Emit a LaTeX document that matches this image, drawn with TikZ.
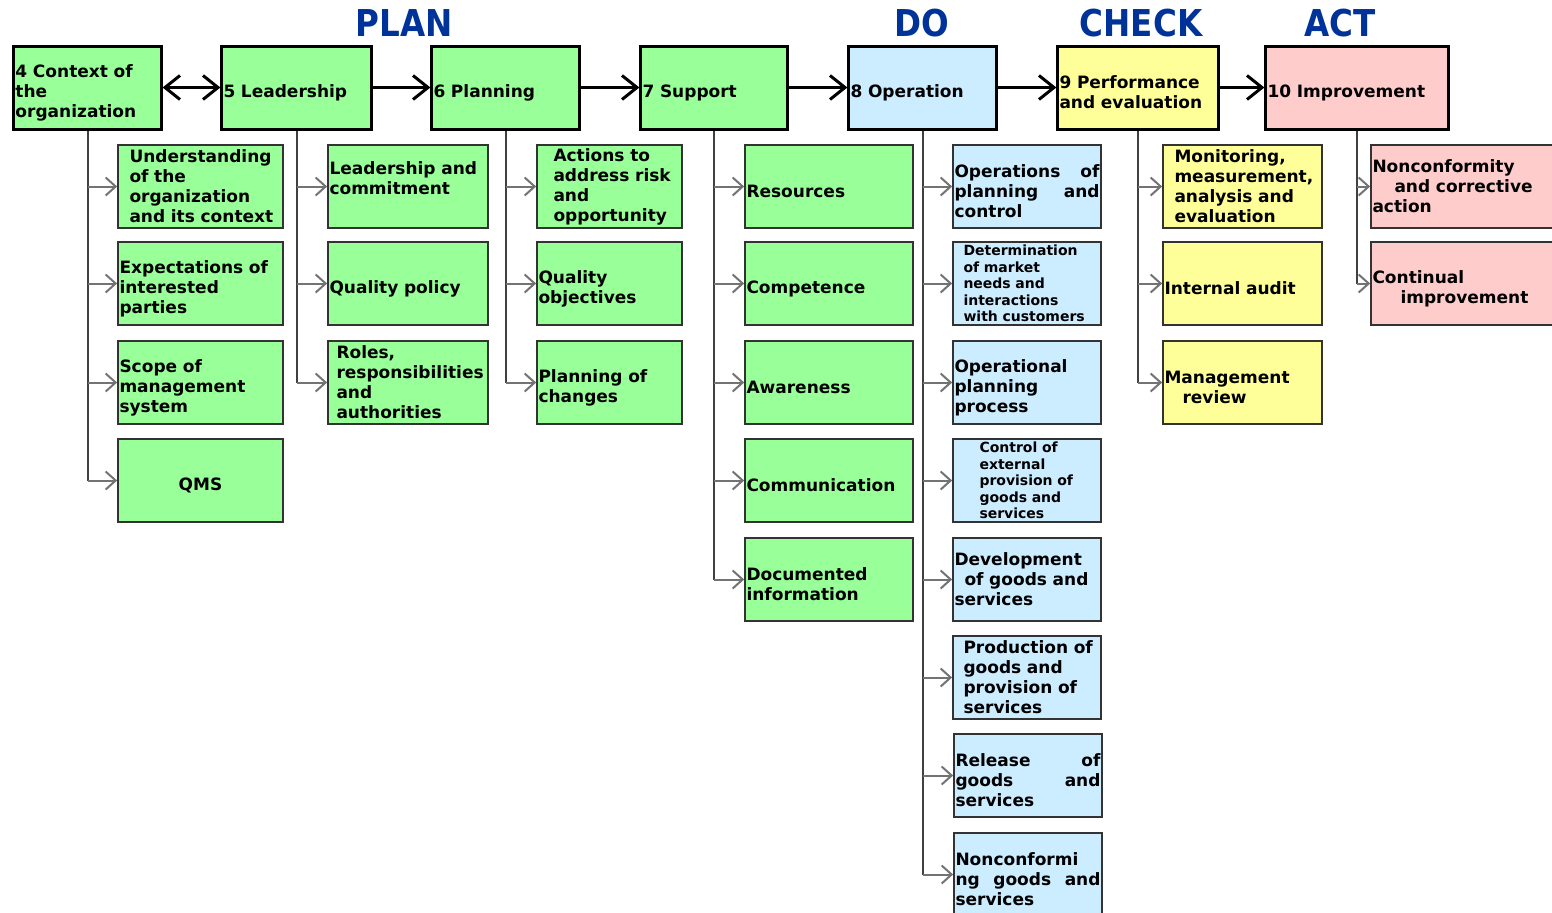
\documentclass[tikz,border=0pt]{standalone}
\usepackage{fontspec}
\setmainfont{DejaVu Sans}
\newfontfamily\headfont[FakeStretch=0.88]{DejaVu Sans}
\usetikzlibrary{arrows.meta}
\definecolor{qgreen}{RGB}{153,255,153}
\definecolor{qblue}{RGB}{204,236,255}
\definecolor{qyellow}{RGB}{255,255,153}
\definecolor{qpink}{RGB}{255,204,204}
\definecolor{phaseblue}{RGB}{0,51,153}

\begin{document}
\begin{tikzpicture}[
  x=0.5pt, y=-0.5pt,
  >={Straight Barb[length=7.5pt,width=12pt]},
  every node/.style={font=\fontsize{8.5}{10}\selectfont\bfseries, align=left, inner xsep=0.8pt, inner ysep=0pt},
  lift/.style={execute at begin node={\rule{0pt}{#1}}},
  sink/.style={execute at end node={\rule[-#1]{0pt}{0pt}}},
  lskip/.style={execute at begin node={\leftskip=#1}},
  clause/.style={draw=black, line width=1.5pt, minimum height=41.5pt, text width=#1, lift=11.5pt},
  item/.style={draw=black!80, line width=0.75pt, minimum height=41.5pt, text width=#1},
  sub/.style={item=#1, lift=11.5pt},
  small/.style={font=\fontsize{7}{8.2}\selectfont\bfseries},
  phase/.style={font=\headfont\fontsize{18.5}{18.5}\selectfont\bfseries, text=phaseblue, anchor=base},
  flow/.style={->, line width=1.5pt},
  trunk/.style={draw=black!75, line width=1pt},
  branch/.style={draw=black!55, line width=1pt, -{Straight Barb[length=5pt,width=9pt]}}
]
  \clip (0,0) rectangle (1552,912);

  % phases
  \node[phase] (hplan) at (404,36) {PLAN};
  \node[phase] (hdo) at (922,36) {DO};
  \node[phase] (hcheck) at (1141,36) {CHECK};
  \node[phase] (hact) at (1340,36) {ACT};

  % clauses
  \node[clause=72pt, fill=qgreen] (ctx) at (87.5,87.5) {4 Context of\\the\\organization};
  \node[clause=73pt, fill=qgreen] (lead) at (296.5,87.5) {5 Leadership};
  \node[clause=72pt, fill=qgreen] (plan) at (505.5,87.5) {6 Planning};
  \node[clause=71.5pt, fill=qgreen] (supp) at (714,87.5) {7 Support};
  \node[clause=72pt, fill=qblue] (oper) at (922.5,87.5) {8 Operation};
  \node[clause=78.5pt, fill=qyellow] (perf) at (1138,87.5) {9 Performance\\and evaluation};
  \node[clause=89.5pt, fill=qpink] (impr) at (1357,87.5) {10 Improvement};

  % 4 context
  \node[item=81pt, fill=qgreen, lskip=5pt] (ctx1) at (200.5,186.5) {Understanding\\of the\\organization\\and its context};
  \node[sub=81pt, fill=qgreen] (ctx2) at (200.5,283.5) {Expectations of\\interested\\parties};
  \node[sub=81pt, fill=qgreen] (ctx3) at (200.5,382.5) {Scope of\\management\\system};
  \node[sub=81pt, fill=qgreen, align=center] (ctx4) at (200.5,480.5) {QMS};

  % 5 leadership
  \node[item=78.5pt, fill=qgreen, sink=8pt] (lead1) at (408,186.5) {Leadership and\\commitment};
  \node[sub=78.5pt, fill=qgreen] (lead2) at (408,283.5) {Quality policy};
  \node[item=78.5pt, fill=qgreen, lskip=3.5pt] (lead3) at (408,382.5) {Roles,\\responsibilities\\and\\authorities};

  % 6 planning
  \node[item=71pt, fill=qgreen, lskip=7.5pt] (plan1) at (609.5,186.5) {Actions to\\address risk\\and\\opportunity};
  \node[sub=71pt, fill=qgreen] (plan2) at (609.5,283.5) {Quality\\objectives};
  \node[sub=71pt, fill=qgreen] (plan3) at (609.5,382.5) {Planning of\\changes};

  % 7 support
  \node[sub=82.5pt, fill=qgreen] (supp1) at (829,186.5) {Resources};
  \node[sub=82.5pt, fill=qgreen] (supp2) at (829,283.5) {Competence};
  \node[sub=82.5pt, fill=qgreen] (supp3) at (829,382.5) {Awareness};
  \node[sub=82.5pt, fill=qgreen] (supp4) at (829,480.5) {Communication};
  \node[sub=82.5pt, fill=qgreen] (supp5) at (829,579.5) {Documented\\information};

  % 8 operation
  \node[sub=72.5pt, fill=qblue] (oper1) at (1027,186.5) {Operations\hfill of\\planning\hfill and\\control};
  \node[item=72.5pt, fill=qblue, small, lskip=4.5pt] (oper2) at (1027,283.5) {Determination\\of market\\needs and\\interactions\\with customers};
  \node[sub=72.5pt, fill=qblue] (oper3) at (1027,382.5) {Operational\\planning\\process};
  \node[item=72.5pt, fill=qblue, small, lskip=12.5pt] (oper4) at (1027,480.5) {Control of\\external\\provision of\\goods and\\services};
  \node[item=72.5pt, fill=qblue] (oper5) at (1027,579.5) {Development\\\hspace*{5pt}of goods and\\services};
  \node[item=72.5pt, fill=qblue, lskip=4.5pt] (oper6) at (1027,677.5) {Production of\\goods and\\provision of\\services};
  \node[sub=72.5pt, fill=qblue] (oper7) at (1028,775.5) {Release\hfill of\\goods\hfill and\\services};
  \node[sub=72.5pt, fill=qblue] (oper8) at (1028,874.5) {Nonconformi\\ng\hfill goods\hfill and\\services};

  % 9 performance
  \node[item=78pt, fill=qyellow, lskip=5pt] (perf1) at (1242.5,186.5) {Monitoring,\\measurement,\\analysis and\\evaluation};
  \node[sub=78pt, fill=qyellow] (perf2) at (1242.5,283.5) {Internal audit};
  \node[sub=78pt, fill=qyellow] (perf3) at (1242.5,382.5) {Management\\\hspace*{9pt}review};

  % 10 improvement
  \node[item=91.5pt, fill=qpink] (impr1) at (1464,186.5) {Nonconformity\\\hspace*{11pt}and corrective\\action};
  \node[sub=91.5pt, fill=qpink] (impr2) at (1464,283.5) {Continual\\\hspace*{14pt}improvement};

  % flow between clauses
  \draw[flow, <->] (ctx) -- (lead);
  \draw[flow] (lead) -- (plan);
  \draw[flow] (plan) -- (supp);
  \draw[flow] (supp) -- (oper);
  \draw[flow] (oper) -- (perf);
  \draw[flow] (perf) -- (impr);

  % sub-clauses
  \foreach \p/\n in {ctx/4, lead/3, plan/3, supp/5, oper/8, perf/3, impr/2} {
    \draw[trunk] (\p) -- (\p |- \p\n);
    \foreach \i in {1,...,\n}
      \draw[branch] (\p |- \p\i) -- (\p\i);
  }
\end{tikzpicture}
\end{document}
